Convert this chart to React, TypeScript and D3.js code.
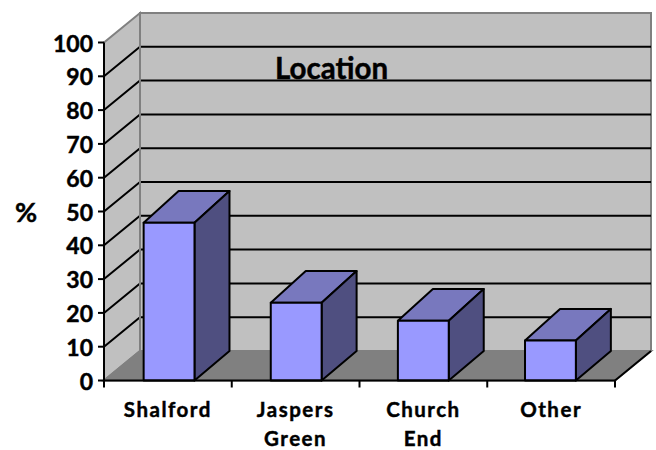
import React from "react";
import * as d3 from "d3";

const categories = ["Shalford", "Jaspers Green", "Church End", "Other"];
const shares = [46.7, 23, 17.7, 11.8];
const yTicks = [0, 10, 20, 30, 40, 50, 60, 70, 80, 90, 100];
const chartTitle = "Location";
const yTitle = "%";

const WIDTH = 656;
const HEIGHT = 450;
const FONT = "Lato, Carlito, Calibri, sans-serif";

// Projection of the 3D box: back plane is shifted right and up from the front plane.
const DEPTH_X = 36;
const DEPTH_Y = 29.5;
const BAR_DEPTH_X = 35;
const BAR_TOP_DEPTH_Y = 31.7;

// Axis span, split into one tick interval per category.
const x = d3.scaleBand<string>().domain(categories).range([104, 615]);
// Bars sit slightly inside the axis span.
const barX = d3
  .scaleBand<string>()
  .domain(categories)
  .range([105.5, 614])
  .paddingInner(0.6)
  .paddingOuter(0.3);
const y = d3.scaleLinear().domain([0, 100]).range([380.5, 42.5]);

const [x0, x1] = x.range();
const yBase = y(0);
const yTop = y(100);
const poly = d3.line();
const outline = (pts: [number, number][]) => poly(pts) + "Z";

const tickEdges = [...categories.map((c) => x(c) as number), x1];

export default function App() {
  return (
    <svg
      width={WIDTH}
      height={HEIGHT}
      viewBox={`0 0 ${WIDTH} ${HEIGHT}`}
      style={{ position: "absolute", left: 0, top: 0, background: "#fff" }}
      fontFamily={FONT}
      fontWeight={700}
      fill="#000"
    >
      {/* walls and floor */}
      <path
        d={outline([
          [x0, yBase],
          [x0, yTop],
          [x0 + DEPTH_X, yTop - DEPTH_Y],
          [x0 + DEPTH_X, yBase - DEPTH_Y],
        ])}
        fill="#c0c0c0"
        stroke="#808080"
        strokeWidth={2}
      />
      <rect
        x={x0 + DEPTH_X}
        y={yTop - DEPTH_Y}
        width={x1 - x0}
        height={yBase - yTop}
        fill="#c0c0c0"
        stroke="#808080"
        strokeWidth={2}
      />
      <path
        d={outline([
          [x0, yBase],
          [x0 + DEPTH_X, yBase - DEPTH_Y],
          [x1 + DEPTH_X, yBase - DEPTH_Y],
          [x1, yBase],
        ])}
        fill="#808080"
        stroke="#808080"
        strokeWidth={2}
      />

      {/* gridlines run along the side wall and across the back wall */}
      {yTicks
        .filter((t) => t > 0 && t < 100)
        .map((t) => (
          <path
            key={t}
            d={
              poly([
                [x0, y(t)],
                [x0 + DEPTH_X, y(t) - DEPTH_Y],
                [x1 + DEPTH_X, y(t) - DEPTH_Y],
              ]) as string
            }
            fill="none"
            stroke="#000"
            strokeWidth={2}
          />
        ))}
      <line x1={x0 + DEPTH_X} x2={x0 + DEPTH_X} y1={yTop - DEPTH_Y} y2={yBase - DEPTH_Y} stroke="#808080" strokeWidth={2} />

      {/* bars */}
      {categories.map((c, i) => {
        const left = barX(c) as number;
        const right = left + barX.bandwidth();
        const top = y(shares[i]);
        const back = top - BAR_TOP_DEPTH_Y;
        const bottomBack = yBase - DEPTH_Y;
        return (
          <g key={c} stroke="#000" strokeWidth={2} strokeLinejoin="round">
            <path
              d={outline([
                [left, top],
                [left + BAR_DEPTH_X, back],
                [right + BAR_DEPTH_X, back],
                [right, top],
              ])}
              fill="#7878be"
            />
            <path
              d={outline([
                [right, top],
                [right + BAR_DEPTH_X, back],
                [right + BAR_DEPTH_X, bottomBack],
                [right, yBase],
              ])}
              fill="#4f4f80"
            />
            <rect x={left} y={top} width={barX.bandwidth()} height={yBase - top} fill="#9999ff" />
          </g>
        );
      })}

      {/* axes */}
      <g stroke="#000" strokeWidth={2}>
        <line x1={x0} x2={x0} y1={yTop} y2={yBase + 1} />
        <line x1={x0 - 1} x2={x1} y1={yBase} y2={yBase} />
        <line x1={x1} x2={x1 + DEPTH_X} y1={yBase} y2={yBase - DEPTH_Y} />
        {yTicks.map((t) => (
          <line key={t} x1={x0 - 6} x2={x0} y1={y(t)} y2={y(t)} />
        ))}
        {tickEdges.map((e) => (
          <line key={e} x1={e} x2={e} y1={yBase} y2={yBase + 7} />
        ))}
      </g>

      {/* text, thickened slightly with a hairline stroke */}
      <g stroke="#000" strokeWidth={0.45}>
        {yTicks.map((t) => (
          <text key={t} x={93} y={y(t) + 9} textAnchor="end" fontSize={23}>
            {t}
          </text>
        ))}
        <text x={26} y={222} textAnchor="middle" fontSize={27}>
          {yTitle}
        </text>
        <text x={331.5} y={79} textAnchor="middle" fontSize={29.5}>
          {chartTitle}
        </text>
        {categories.map((c) => {
          const cx = (x(c) as number) + x.bandwidth() / 2;
          return (
            <text key={c} textAnchor="middle" fontSize={20.5} letterSpacing={1.5}>
              {c.split(" ").map((word, i) => (
                <tspan key={word} x={cx} y={417 + i * 28.5}>
                  {word}
                </tspan>
              ))}
            </text>
          );
        })}
      </g>
    </svg>
  );
}
